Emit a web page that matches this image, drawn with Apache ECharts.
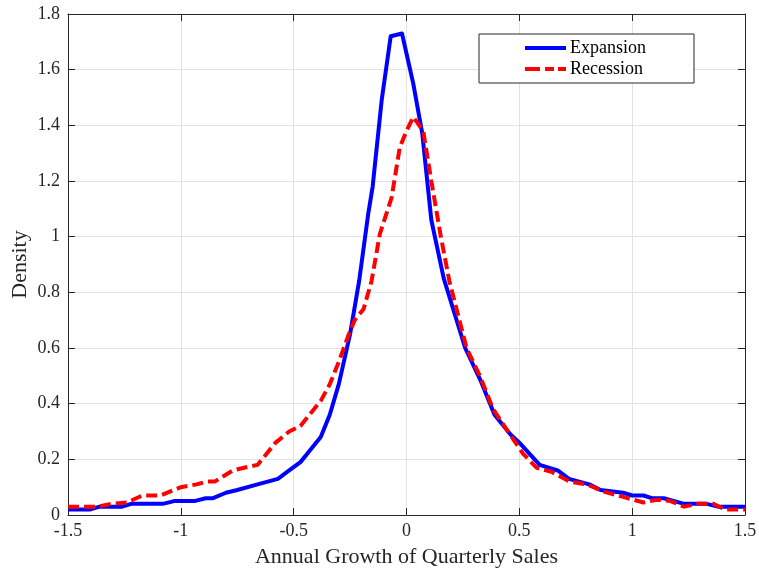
<!DOCTYPE html>
<html>
<head>
<meta charset="utf-8">
<script src="https://cdn.jsdelivr.net/npm/echarts@6/dist/echarts.min.js"></script>
<style>html,body{margin:0;padding:0;background:#fff;}#c{width:759px;height:568px;}</style>
</head>
<body>
<div id="c"></div>
<script>
var xTickLabels = ['-1.5','-1','-0.5','0','0.5','1','1.5'];
var yTickLabels = ['0','0.2','0.4','0.6','0.8','1','1.2','1.4','1.6','1.8'];

var expX = [-1.5,-1.40,-1.36,-1.26,-1.22,-1.08,-1.03,-0.94,-0.89,-0.86,-0.80,-0.75,-0.66,-0.57,-0.52,-0.47,-0.43,-0.38,-0.34,-0.30,-0.25,-0.21,-0.17,-0.15,-0.11,-0.07,-0.02,0.03,0.07,0.11,0.165,0.26,0.33,0.39,0.46,0.50,0.59,0.67,0.72,0.81,0.86,0.96,1.00,1.05,1.09,1.14,1.23,1.33,1.38,1.5];
var expY = [0.02,0.02,0.03,0.03,0.04,0.04,0.05,0.05,0.06,0.06,0.08,0.09,0.11,0.13,0.16,0.19,0.23,0.28,0.36,0.47,0.65,0.84,1.08,1.18,1.49,1.72,1.73,1.55,1.37,1.06,0.85,0.60,0.48,0.36,0.29,0.26,0.18,0.16,0.13,0.11,0.09,0.08,0.07,0.07,0.06,0.06,0.04,0.04,0.03,0.03];

var recX = [-1.5,-1.37,-1.31,-1.24,-1.17,-1.09,-1.03,-1.00,-0.93,-0.885,-0.85,-0.77,-0.72,-0.66,-0.62,-0.58,-0.52,-0.47,-0.43,-0.38,-0.34,-0.30,-0.26,-0.23,-0.19,-0.155,-0.118,-0.066,-0.03,0.0,0.03,0.074,0.11,0.15,0.19,0.266,0.325,0.384,0.458,0.517,0.576,0.643,0.724,0.80,0.87,0.96,1.05,1.11,1.17,1.23,1.29,1.36,1.41,1.5];
var recY = [0.03,0.03,0.04,0.045,0.07,0.07,0.09,0.10,0.11,0.12,0.12,0.16,0.17,0.18,0.22,0.26,0.30,0.32,0.36,0.41,0.47,0.55,0.64,0.70,0.74,0.84,1.01,1.14,1.32,1.38,1.43,1.38,1.20,1.01,0.84,0.60,0.50,0.38,0.29,0.22,0.17,0.155,0.12,0.11,0.085,0.065,0.045,0.055,0.05,0.03,0.04,0.04,0.02,0.02];

function pairs(xs, ys){ return xs.map(function(x,i){ return [x, ys[i]]; }); }

var FONT = '"Liberation Serif", "DejaVu Serif", serif';
var AX = '#262626';

var chart = echarts.init(document.getElementById('c'), null, {renderer:'canvas'});
chart.setOption({
  animation: false,
  backgroundColor: '#fff',
  grid: {left: 68, right: 14, top: 14, bottom: 53, containLabel: false, outerBoundsMode: 'none'},
  legend: {
    orient: 'vertical',
    left: 479, top: 34,
    padding: [5, 48, 5, 46],
    itemGap: 3,
    itemWidth: 41, itemHeight: 4,
    borderColor: AX, borderWidth: 1,
    backgroundColor: '#fff',
    textStyle: {fontFamily: FONT, fontSize: 18, color: '#000', padding: [0,0,0,-1]},
    data: [
      {name: 'Expansion', icon: 'rect'},
      {name: 'Recession', icon: 'path://M0,0H15V4H0Z M20,0H29V4H20Z M33,0H41V4H33Z'}
    ]
  },
  xAxis: [{
    type: 'value', min: -1.5, max: 1.5, interval: 0.5,
    name: 'Annual Growth of Quarterly Sales', nameLocation: 'middle', nameGap: 31,
    nameMoveOverlap: false,
    nameTextStyle: {fontFamily: FONT, fontSize: 22, color: AX},
    axisLine: {show: true, onZero: false, lineStyle: {color: AX, width: 1}},
    axisTick: {show: true, inside: true, length: 7, lineStyle: {color: AX}},
    axisLabel: {fontFamily: FONT, fontSize: 18, color: AX, margin: 7,
      formatter: function(v){ return xTickLabels[Math.round((v + 1.5) / 0.5)]; }},
    splitLine: {show: true, lineStyle: {color: '#e3e3e3', width: 1}}
  },{
    type: 'value', position: 'top', min: -1.5, max: 1.5, interval: 0.5,
    axisLine: {show: true, onZero: false, lineStyle: {color: AX, width: 1}},
    axisTick: {show: true, inside: true, length: 7, lineStyle: {color: AX}},
    axisLabel: {show: false}, splitLine: {show: false}
  }],
  yAxis: [{
    type: 'value', min: 0, max: 1.8, interval: 0.2,
    name: 'Density', nameLocation: 'middle', nameGap: 37,
    nameMoveOverlap: false,
    nameTextStyle: {fontFamily: FONT, fontSize: 22, color: AX},
    axisLine: {show: true, onZero: false, lineStyle: {color: AX, width: 1}},
    axisTick: {show: true, inside: true, length: 7, lineStyle: {color: AX}},
    axisLabel: {fontFamily: FONT, fontSize: 18, color: AX, margin: 8,
      formatter: function(v){ return yTickLabels[Math.round(v / 0.2)]; }},
    splitLine: {show: true, lineStyle: {color: '#e3e3e3', width: 1}}
  },{
    type: 'value', position: 'right', min: 0, max: 1.8, interval: 0.2,
    axisLine: {show: true, onZero: false, lineStyle: {color: AX, width: 1}},
    axisTick: {show: true, inside: true, length: 7, lineStyle: {color: AX}},
    axisLabel: {show: false}, splitLine: {show: false}
  }],
  series: [{
    name: 'Expansion', type: 'line', xAxisIndex: 0, yAxisIndex: 0,
    data: pairs(expX, expY), symbol: 'none', smooth: false,
    lineStyle: {color: '#0000ff', width: 4, join: 'round'},
    itemStyle: {color: '#0000ff'}, z: 3
  },{
    name: 'Recession', type: 'line', xAxisIndex: 0, yAxisIndex: 0,
    data: pairs(recX, recY), symbol: 'none', smooth: false,
    lineStyle: {color: '#ff0000', width: 4, type: [11, 5]},
    itemStyle: {color: '#ff0000'}, z: 4
  }]
});
</script>
</body>
</html>
